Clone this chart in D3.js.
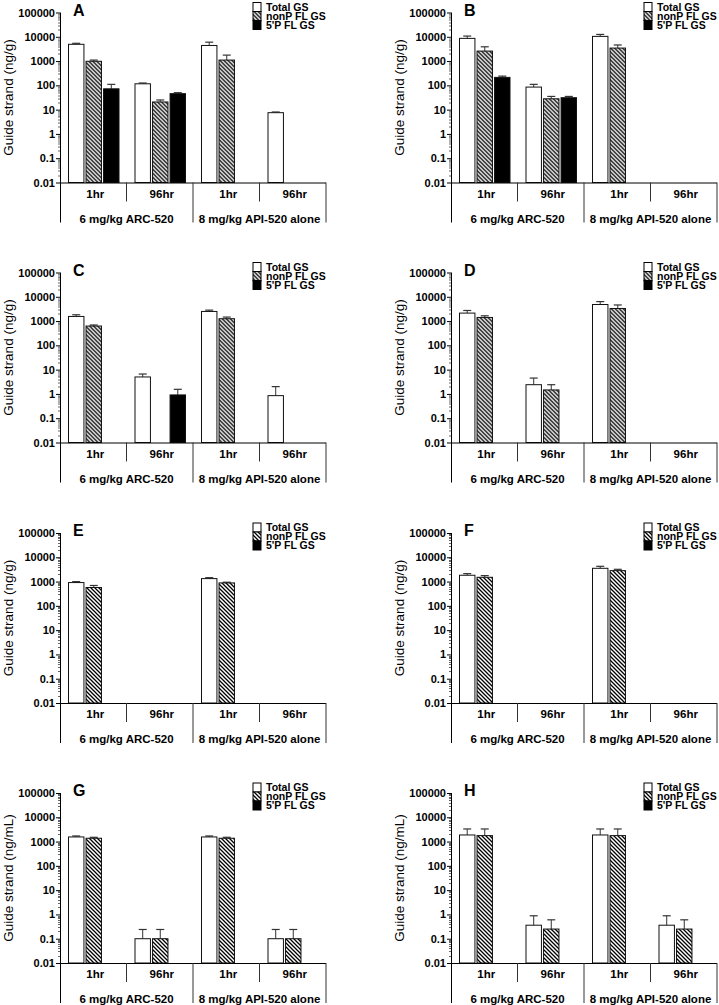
<!DOCTYPE html>
<html>
<head>
<meta charset="utf-8">
<script src="https://cdn.jsdelivr.net/npm/d3@7"></script>
<style>
  html, body { margin: 0; padding: 0; background: #fff; }
  svg { display: block; }
  text { font-family: "Liberation Sans", Arial, sans-serif; fill: #000; }
</style>
</head>
<body>
<svg id="chart" width="719" height="1005"></svg>
<script>
// ---------------- DATA ----------------
const panelLetters = ["A", "B", "C", "D", "E", "F", "G", "H"];
const yUnits = ["ng/g", "ng/g", "ng/g", "ng/g", "ng/g", "ng/g", "ng/mL", "ng/mL"];
const timeLabels = ["1hr", "96hr", "1hr", "96hr"];
const groupLabels = ["6 mg/kg ARC-520", "8 mg/kg API-520 alone"];
const seriesNames = ["Total GS", "nonP FL GS", "5'P FL GS"];
const yTickValues = [0.01, 0.1, 1, 10, 100, 1000, 10000, 100000];
const yTickLabels = ["0.01", "0.1", "1", "10", "100", "1000", "10000", "100000"];

// per panel: [6mg 1hr, 6mg 96hr, 8mg 1hr, 8mg 96hr]
const totalGS = [
  [4900, 116, 4390, 7.5],
  [8600, 85, 10400, null],
  [1550, 5.0, 2490, 0.85],
  [2130, 2.4, 4810, null],
  [910, null, 1325, null],
  [1820, null, 3520, null],
  [1550, 0.1, 1550, 0.1],
  [1870, 0.36, 1870, 0.36]
];
const totalGSErr = [
  [5400, 125, 6000, 8],
  [10700, 110, 12500, null],
  [1820, 6.6, 2820, 2.0],
  [2730, 4.5, 6340, null],
  [1000, null, 1450, null],
  [2120, null, 4250, null],
  [1700, 0.24, 1700, 0.24],
  [3300, 0.88, 3300, 0.88]
];
const nonPFLGS = [
  [980, 20.7, 1100, null],
  [2580, 28, 3430, null],
  [625, null, 1250, null],
  [1410, 1.46, 3300, null],
  [570, null, 880, null],
  [1500, null, 2820, null],
  [1370, 0.1, 1370, 0.1],
  [1760, 0.25, 1760, 0.25]
];
const nonPFLGSErr = [
  [1100, 25, 1760, null],
  [3870, 35, 4600, null],
  [690, null, 1460, null],
  [1650, 2.4, 4600, null],
  [690, null, 940, null],
  [1760, null, 3200, null],
  [1500, 0.24, 1500, 0.24],
  [3300, 0.6, 3300, 0.6]
];
const fivePFLGS = [
  [72, 45.5, null, null],
  [213, 31, null, null],
  [null, 0.91, null, null],
  [null, null, null, null],
  [null, null, null, null],
  [null, null, null, null],
  [null, null, null, null],
  [null, null, null, null]
];
const fivePFLGSErr = [
  [110, 50, null, null],
  [240, 35, null, null],
  [null, 1.55, null, null],
  [null, null, null, null],
  [null, null, null, null],
  [null, null, null, null],
  [null, null, null, null],
  [null, null, null, null]
];

// ---------------- LAYOUT ----------------
const colX = [60, 451];
const rowTop = [12.5, 272.5, 533, 793];
const plotW = 266;
const plotH = 170;
const FONT = '"Liberation Sans", Arial, sans-serif';

const svg = d3.select("#chart");
svg.append("rect").attr("width", 719).attr("height", 1005).attr("fill", "#fff");

const defs = svg.append("defs");
const pat = defs.append("pattern")
  .attr("id", "hatch")
  .attr("patternUnits", "userSpaceOnUse")
  .attr("width", 4).attr("height", 4);
pat.append("rect").attr("width", 4).attr("height", 4).attr("fill", "#fff");
pat.append("path")
  .attr("d", "M0,0 L4,4 M-1,3 L1,5 M3,-1 L5,1")
  .attr("stroke", "#000").attr("stroke-width", 1.3);

const fills = ["#fff", "url(#hatch)", "#000"];

const means = [totalGS, nonPFLGS, fivePFLGS];
const errs = [totalGSErr, nonPFLGSErr, fivePFLGSErr];

panelLetters.forEach((letter, p) => {
  const ox = colX[p % 2];
  const oy = rowTop[Math.floor(p / 2)];
  const g = svg.append("g").attr("transform", `translate(${ox},${oy})`);

  const y = d3.scaleLog().domain([0.01, 100000]).range([plotH, 0]);
  const x = d3.scaleBand().domain(d3.range(4)).range([0, plotW]);
  const xs = d3.scaleBand().domain(d3.range(3)).range([8.5, 59]).paddingInner(0.12);

  // bars
  const barData = [];
  for (let s = 0; s < 3; s++) {
    for (let t = 0; t < 4; t++) {
      const v = means[s][p][t];
      if (v != null) barData.push({ s, t, v, e: errs[s][p][t] });
    }
  }

  // error bars (behind bars)
  const eg = g.append("g");
  barData.filter(d => d.e != null && d.e > d.v).forEach(d => {
    const cx = x(d.t) + xs(d.s) + xs.bandwidth() / 2;
    eg.append("line")
      .attr("x1", cx).attr("x2", cx)
      .attr("y1", y(d.v)).attr("y2", y(d.e))
      .attr("stroke", "#333").attr("stroke-width", 1);
    eg.append("line")
      .attr("x1", cx - 4).attr("x2", cx + 4)
      .attr("y1", y(d.e)).attr("y2", y(d.e))
      .attr("stroke", "#333").attr("stroke-width", 1.2);
  });

  g.append("g").selectAll("rect").data(barData).join("rect")
    .attr("x", d => x(d.t) + xs(d.s))
    .attr("width", xs.bandwidth())
    .attr("y", d => y(d.v))
    .attr("height", d => plotH - y(d.v))
    .attr("fill", d => fills[d.s])
    .attr("stroke", "#111")
    .attr("stroke-width", 1);

  // y axis
  const yAxis = d3.axisLeft(y)
    .tickValues(yTickValues)
    .tickFormat((d, i) => yTickLabels[i])
    .tickSize(4)
    .tickPadding(1);
  const ya = g.append("g").call(yAxis);
  ya.select(".domain").remove();
  ya.selectAll("text")
    .attr("font-family", FONT).attr("font-weight", "bold").attr("font-size", 11)
    .attr("fill", "#000");
  ya.selectAll("line").attr("stroke", "#000");

  // minor ticks
  const minor = [];
  for (let e = -2; e < 5; e++) for (let m = 2; m <= 9; m++) minor.push(m * Math.pow(10, e));
  g.append("g").selectAll("line").data(minor).join("line")
    .attr("x1", -2).attr("x2", 0)
    .attr("y1", d => Math.round(y(d)) + 0.5).attr("y2", d => Math.round(y(d)) + 0.5)
    .attr("stroke", "#666").attr("stroke-width", 1);

  // axis lines
  g.append("line").attr("x1", 0.5).attr("x2", 0.5).attr("y1", 0).attr("y2", plotH + 40)
    .attr("stroke", "#000").attr("stroke-width", 1);
  g.append("line").attr("x1", 0).attr("x2", plotW).attr("y1", plotH + 0.5).attr("y2", plotH + 0.5)
    .attr("stroke", "#000").attr("stroke-width", 1);

  // category separators
  [1, 3].forEach(t => {
    g.append("line").attr("x1", x(t)).attr("x2", x(t))
      .attr("y1", plotH).attr("y2", plotH + 19)
      .attr("stroke", "#333").attr("stroke-width", 1);
  });
  [x(2), plotW].forEach(xx => {
    g.append("line").attr("x1", xx).attr("x2", xx)
      .attr("y1", plotH).attr("y2", plotH + 40)
      .attr("stroke", "#333").attr("stroke-width", 1);
  });

  // time labels
  g.append("g").selectAll("text").data(timeLabels).join("text")
    .attr("x", (d, i) => x(i) + x.bandwidth() / 2 + 2)
    .attr("y", plotH + 11)
    .attr("dy", "0.35em")
    .attr("text-anchor", "middle")
    .attr("font-weight", "bold").attr("font-size", 11.5)
    .text(d => d);

  // group labels
  g.append("g").selectAll("text").data(groupLabels).join("text")
    .attr("x", (d, i) => x(i * 2) + x.bandwidth())
    .attr("y", plotH + 36)
    .attr("dy", "0.35em")
    .attr("text-anchor", "middle")
    .attr("font-weight", "bold").attr("font-size", 11.5)
    .text(d => d);

  // y title
  g.append("text")
    .attr("transform", `translate(-52,${plotH / 2}) rotate(-90)`)
    .attr("text-anchor", "middle")
    .attr("dy", "0.35em")
    .attr("font-size", 13.5)
    .text(`Guide strand (${yUnits[p]})`);

  // panel letter
  g.append("text")
    .attr("x", 13).attr("y", 3)
    .attr("font-weight", "bold").attr("font-size", 16)
    .text(letter);

  // legend
  const lg = g.append("g").attr("transform", "translate(193,-10)");
  seriesNames.forEach((name, i) => {
    lg.append("rect")
      .attr("x", 0).attr("y", i * 9).attr("width", 8).attr("height", 9)
      .attr("fill", fills[i]).attr("stroke", "#000").attr("stroke-width", 1);
    lg.append("text")
      .attr("x", 13).attr("y", i * 9 + 4.5)
      .attr("dy", "0.35em")
      .attr("font-weight", "bold").attr("font-size", 10.5)
      .text(name);
  });
});
</script>
</body>
</html>
